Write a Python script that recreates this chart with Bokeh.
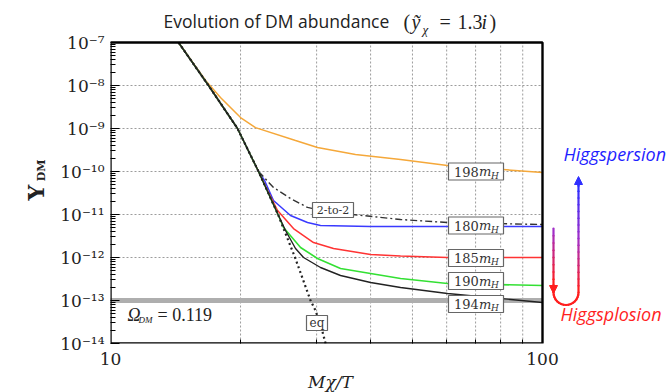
import numpy as np
from bokeh.plotting import figure
from bokeh.layouts import row, column
from bokeh.models import Range1d, FixedTicker, CustomJSTickFormatter, Arrow, NormalHead
from bokeh.core.properties import value
from bokeh.embed import file_html
from bokeh.resources import INLINE

# ---------------- data ----------------
x_eq = [14.37, 16.86, 19.68, 22.01, 24.42, 26.74, 29.04, 29.82, 30.63, 31.47]
y_eq = [1e-7, 1e-8, 1e-9, 1e-10, 1e-11, 1e-12, 1e-13, 5.85e-14, 2.77e-14, 1e-14]

x_198 = [14.37, 16.6, 17.97, 20.0, 21.66, 26.81, 30.14, 36.9, 46.93, 60.26, 100]
y_198 = [1e-7, 1.31e-8, 5.26e-9, 1.80e-9, 1.05e-9, 5.26e-10, 3.61e-10, 2.48e-10, 1.9e-10, 1.38e-10, 9.5e-11]

x_22 = [22.01, 22.24, 23.84, 26.1, 28.58, 32.3, 38.31, 46.93, 60.26, 100]
y_22 = [1e-10, 8.98e-11, 4.25e-11, 2.36e-11, 1.46e-11, 1.11e-11, 9.5e-12, 7.65e-12, 6.5e-12, 5.85e-12]

x_180 = [14.37, 16.86, 19.68, 22.01, 22.73, 23.84, 26.1, 28.58, 30.63, 39.99, 100]
y_180 = [1e-7, 1e-8, 1e-9, 1e-10, 6.18e-11, 2.12e-11, 9.5e-12, 6.5e-12, 5.55e-12, 5.26e-12, 5.26e-12]

x_185 = [14.37, 16.86, 19.68, 22.01, 23.22, 24.36, 26.52, 29.51, 32.83, 39.99, 46.93, 60.26, 100]
y_185 = [1e-7, 1e-8, 1e-9, 1e-10, 3.25e-11, 1.24e-11, 4.72e-12, 2.23e-12, 1.62e-12, 1.17e-12, 1.08e-12, 1.0e-12, 1.0e-12]

x_190 = [14.37, 16.86, 19.68, 22.01, 24.42, 25.15, 27.54, 30.14, 34.08, 39.99, 46.93, 60.26, 100]
y_190 = [1e-7, 1e-8, 1e-9, 1e-10, 1e-11, 4.99e-12, 1.71e-12, 9.5e-13, 5.55e-13, 4.25e-13, 3.25e-13, 2.48e-13, 2.23e-13]

x_194 = [14.37, 16.86, 19.68, 22.01, 24.42, 25.42, 26.81, 27.98, 30.63, 34.08, 39.99, 46.93, 60.26, 100]
y_194 = [1e-7, 1e-8, 1e-9, 1e-10, 1e-11, 4.25e-12, 1.62e-12, 1.0e-12, 5.85e-13, 3.81e-13, 2.62e-13, 2.0e-13, 1.46e-13, 8.98e-14]

omega_dm = 1e-13

mass_labels = ["198", "180", "185", "190", "194"]

x_ticks = [10, 100]
x_tick_labels = ["10", "100"]
x_minor = [20, 30, 40, 50, 60, 70, 80, 90]
y_ticks = [1e-14, 1e-13, 1e-12, 1e-11, 1e-10, 1e-9, 1e-8, 1e-7]
y_tick_labels = ["10⁻¹⁴", "10⁻¹³", "10⁻¹²", "10⁻¹¹", "10⁻¹⁰", "10⁻⁹", "10⁻⁸", "10⁻⁷"]
y_minor = [k * d for d in y_ticks[:-1] for k in range(2, 10)]

# ---------------- page geometry (pixels) ----------------
W, H = 669, 392
LW = 52            # left strip (y-axis title)
BH = 20            # bottom strip (x-axis title)
FL, FR, FT, FB = 110, 542, 42, 343   # box of the axes on the page


def X(px):
    return 10 ** (1 + (px - FL) / (FR - FL))


def Y(py):
    return 10 ** (-7 - 7 * (py - FT) / (FB - FT))


serif = value("DejaVu Serif")
lserif = value("Liberation Serif")
sans = value("Open Sans")
ink = "#222222"

# ---------------- main plot ----------------
PW, PH = W - LW, H - BH
p = figure(width=PW, height=PH, x_axis_type="log", y_axis_type="log",
           x_range=Range1d(X(FL), X(W)), y_range=Range1d(Y(FB), Y(0)),
           output_backend="svg", toolbar_location=None,
           min_border_left=FL - LW, min_border_right=0, min_border_top=0,
           min_border_bottom=PH - FB)
p.title.visible = False
p.outline_line_color = None
p.border_fill_color = "white"
p.background_fill_color = "white"
p.xgrid.visible = False
p.ygrid.visible = False

fmt_code = """
const i = t.findIndex(v => Math.abs(Math.log10(v) - Math.log10(tick)) < 1e-6);
return i >= 0 ? l[i] : "";
"""
p.xaxis.ticker = FixedTicker(ticks=x_ticks, minor_ticks=x_minor)
p.yaxis.ticker = FixedTicker(ticks=y_ticks, minor_ticks=y_minor)
p.xaxis.formatter = CustomJSTickFormatter(args=dict(t=x_ticks, l=x_tick_labels), code=fmt_code)
p.yaxis.formatter = CustomJSTickFormatter(args=dict(t=y_ticks, l=y_tick_labels), code=fmt_code)
for ax in (p.xaxis[0], p.yaxis[0]):
    ax.axis_line_color = None
    ax.major_tick_out = 0
    ax.minor_tick_out = 0
    ax.major_tick_line_width = 1.2
    ax.major_label_text_font = "DejaVu Serif"
    ax.major_label_text_font_size = "17px"
    ax.major_label_text_color = ink
p.yaxis.major_tick_in = 9
p.yaxis.minor_tick_in = 5
p.yaxis.major_label_standoff = 6
p.xaxis.major_tick_in = 0
p.xaxis.minor_tick_in = 4
p.xaxis.major_label_standoff = 9

x_lo, x_hi = x_ticks[0], x_ticks[-1]
y_lo, y_hi = y_ticks[0], y_ticks[-1]

# dotted grid inside the box
grid_col = "#9c9c9c"
gy = y_ticks[1:-1]
p.segment(x0=[x_lo] * len(gy), y0=gy, x1=[x_hi] * len(gy), y1=gy,
          line_color=grid_col, line_dash="2 2", line_width=1)
p.segment(x0=x_minor, y0=[y_lo] * len(x_minor), x1=x_minor, y1=[y_hi] * len(x_minor),
          line_color=grid_col, line_dash="2 2", line_width=1)

# Omega_DM band
p.segment(x0=[x_lo], y0=[omega_dm], x1=[x_hi], y1=[omega_dm], line_color="#c6c6c6", line_width=5)
p.segment(x0=[x_lo], y0=[omega_dm], x1=[x_hi], y1=[omega_dm], line_color="#979797",
          line_width=5, line_dash="1 1")

# curves
p.line(x_198, y_198, line_color="#f5a83a", line_width=1.5)
p.line(x_180, y_180, line_color="#3a3aff", line_width=1.5)
p.line(x_185, y_185, line_color="#ff3333", line_width=1.5)
p.line(x_22, y_22, line_color="#333333", line_width=1.4, line_dash="7 3 2 3")
p.line(x_190, y_190, line_color="#33e033", line_width=1.6)
p.line(x_194, y_194, line_color=ink, line_width=1.4)
p.line(x_eq, y_eq, line_color=ink, line_width=2.2, line_dash="2 3")

# axes box
p.quad(left=[x_lo], right=[x_hi], bottom=[y_lo], top=[y_hi], fill_color=None,
       line_color="black", line_width=2.4)

# mass label boxes
box_x = [X(475.5)] * 5
box_y = [Y(171), Y(225), Y(257.5), Y(280.5), Y(303.5)]
p.rect(box_x, box_y, width=55, height=17, width_units="screen", height_units="screen",
       fill_color="white", line_color="#666666", line_width=1.2)
p.text(box_x, box_y, text=mass_labels, x_offset=-22, text_font=serif, text_font_size="13px",
       text_baseline="middle", text_align="left", text_color="#333333")
p.text(box_x, box_y, text=["m"] * 5, x_offset=3, text_font=serif, text_font_style="italic",
       text_font_size="13px", text_baseline="middle", text_align="left", text_color="#333333")
p.text(box_x, box_y, text=["H"] * 5, x_offset=15, y_offset=4, text_font=serif,
       text_font_style="italic", text_font_size="9px", text_baseline="middle",
       text_align="left", text_color="#333333")

# 2-to-2 and eq boxes
p.rect([X(332.5)], [Y(209.5)], width=41, height=15, width_units="screen", height_units="screen",
       fill_color="white", line_color="#666666", line_width=1.2)
p.text([X(332.5)], [Y(209.5)], text=["2-to-2"], text_font=serif, text_font_size="11px",
       text_baseline="middle", text_align="center", text_color="#333333")
p.rect([X(316.5)], [Y(322.5)], width=21, height=15, width_units="screen", height_units="screen",
       fill_color="white", line_color="#666666", line_width=1.2)
p.text([X(316.5)], [Y(322.5)], text=["eq"], text_font=serif, text_font_size="12px",
       text_baseline="middle", text_align="center", text_color="#333333")


def ptext(px, py, text, font=lserif, size="17px", style="normal", color=ink, align="left"):
    p.text([X(px)], [Y(py)], text=[text], text_font=font, text_font_size=size,
           text_font_style=style, text_color=color, text_align=align, text_baseline="middle")


# Omega_DM text
ptext(127, 314, "Ω", style="italic", size="18px")
ptext(138, 319, "DM", style="italic", size="9px")
ptext(157, 314, "= 0.119", size="18px")

# title
ptext(163, 20.5, "Evolution of DM abundance", font=sans, size="17.5px")
ptext(403, 21, "(", size="20px")
ptext(411, 21.5, "ỹ", style="italic", size="20px")
ptext(422, 29, "χ", style="italic", size="13px")
ptext(439, 21.5, "=", size="20px")
ptext(457, 21.5, "1.3", size="20px")
ptext(481, 21.5, "i", style="italic", size="20px")
ptext(489, 21, ")", size="20px")

# Higgspersion / Higgsplosion
ptext(563, 153, "Higgspersion", font=sans, size="18px", style="italic", color="#1f1fff")
ptext(560, 313, "Higgsplosion", font=sans, size="18px", style="italic", color="#ff1f1f")


def mix(c1, c2, t):
    a = [int(c1[i:i + 2], 16) for i in (1, 3, 5)]
    b = [int(c2[i:i + 2], 16) for i in (1, 3, 5)]
    t = min(max(t, 0.0), 1.0)
    return "#%02x%02x%02x" % tuple(int(round(a[k] + (b[k] - a[k]) * t)) for k in range(3))


RED, PURP, BLUE = "#ff1f1f", "#a22fc8", "#2f2fff"
sx0, sy0, sx1, sy1, scol = [], [], [], [], []


def seg(x0, y0, x1, y1, c):
    sx0.append(X(x0)); sy0.append(Y(y0)); sx1.append(X(x1)); sy1.append(Y(y1)); scol.append(c)


# right vertical (red -> purple -> blue, upward)
n = 16
ys = np.linspace(292, 184, n + 1)
for i in range(n):
    t = i / (n - 1)
    c = mix(RED, PURP, t * 2) if t < 0.5 else mix(PURP, BLUE, (t - 0.5) * 2)
    seg(578, ys[i], 578, ys[i + 1], c)
# left vertical (purple -> red, downward)
m = 8
ys = np.linspace(228, 286, m + 1)
for i in range(m):
    seg(553, ys[i], 553, ys[i + 1], mix(PURP, RED, i / (m - 1)))
# U bottom
cx, cy, r = 565.5, 292, 12.5
ang = np.linspace(np.pi, 2 * np.pi, 17)
for i in range(16):
    seg(cx + r * np.cos(ang[i]), cy - r * np.sin(ang[i]),
        cx + r * np.cos(ang[i + 1]), cy - r * np.sin(ang[i + 1]), RED)
seg(553, 286, 553, 292, RED)
p.segment(x0=sx0, y0=sy0, x1=sx1, y1=sy1, line_color=scol, line_width=2.2, line_cap="round")
p.add_layout(Arrow(x_start=X(578), y_start=Y(186), x_end=X(578), y_end=Y(176),
                   line_color=BLUE, line_width=2.2,
                   end=NormalHead(size=8, fill_color=BLUE, line_color=BLUE)))
p.add_layout(Arrow(x_start=X(553), y_start=Y(284), x_end=X(553), y_end=Y(293),
                   line_color=RED, line_width=2.2,
                   end=NormalHead(size=8, fill_color=RED, line_color=RED)))

# ---------------- left strip: y-axis title ----------------
L = figure(width=LW, height=PH, x_range=Range1d(0, LW), y_range=Range1d(0, PH),
           output_backend="svg", toolbar_location=None, x_axis_location=None,
           y_axis_location=None, min_border=0)
L.title.visible = False
L.outline_line_color = None
L.xgrid.visible = False
L.ygrid.visible = False
L.text([35.5], [PH - 217], text=["Y"], angle=np.pi / 2, text_font=serif, text_font_style="bold",
       text_font_size="22px", text_align="left", text_baseline="middle", text_color=ink)
L.text([41], [PH - 196], text=["DM"], angle=np.pi / 2, text_font=serif, text_font_style="bold",
       text_font_size="11px", text_align="left", text_baseline="middle", text_color=ink)

# ---------------- bottom strip: x-axis title ----------------
B = figure(width=W, height=BH, x_range=Range1d(0, W), y_range=Range1d(0, BH),
           output_backend="svg", toolbar_location=None, x_axis_location=None,
           y_axis_location=None, min_border=0)
B.title.visible = False
B.outline_line_color = None
B.xgrid.visible = False
B.ygrid.visible = False
B.text([330], [H - 381.5], text=["Mχ/T"], text_font=serif, text_font_style="italic",
       text_font_size="17px", text_align="center", text_baseline="middle", text_color=ink)

layout = column(row(L, p, spacing=0), B, spacing=0)
open("out.html", "w").write(file_html(layout, INLINE))
